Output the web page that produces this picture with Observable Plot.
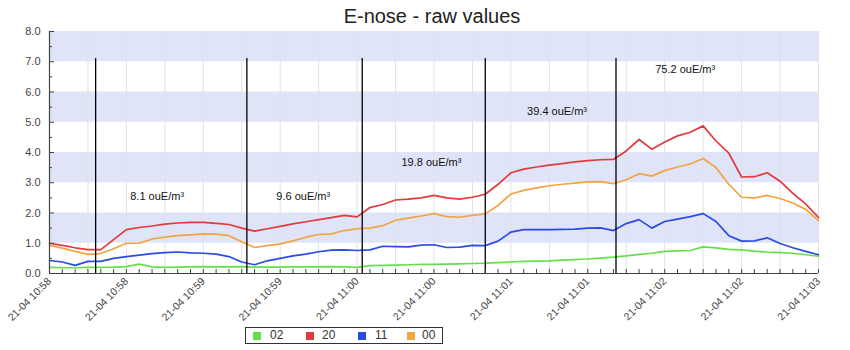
<!DOCTYPE html>
<html>
<head>
<meta charset="utf-8">
<script src="https://cdn.jsdelivr.net/npm/d3@7"></script>
<script src="https://cdn.jsdelivr.net/npm/@observablehq/plot@0.6"></script>
<style>
  body { margin: 0; background: #fff; font-family: "Liberation Sans", Arial, sans-serif; }
  #wrap { position: relative; width: 850px; height: 350px; }
  #title { position: absolute; left: 0; width: 864px; top: 5px; text-align: center; font-size: 20px; color: #222; }
  #legend { position: absolute; left: 245px; top: 327px; width: 196px; height: 15px; border: 1px solid #333; font-size: 12px; color: #333; }
  #legend span.sw { position: absolute; top: 4px; width: 8px; height: 8px; }
  #legend span.lb { position: absolute; top: 0px; line-height: 15px; }
</style>
</head>
<body>
<div id="wrap">
  <div id="title">E-nose - raw values</div>
  <div id="chart"></div>
  <div id="legend"></div>
</div>
<script>
// ---- data ----
const times = [
  "10:58:00","10:58:05","10:58:10","10:58:15","10:58:20","10:58:25","10:58:30","10:58:35","10:58:40","10:58:45",
  "10:58:50","10:58:55","10:59:00","10:59:05","10:59:10","10:59:15","10:59:20","10:59:25","10:59:30","10:59:35",
  "10:59:40","10:59:45","10:59:50","10:59:55","11:00:00","11:00:05","11:00:10","11:00:15","11:00:20","11:00:25",
  "11:00:30","11:00:35","11:00:40","11:00:45","11:00:50","11:00:55","11:01:00","11:01:05","11:01:10","11:01:15",
  "11:01:20","11:01:25","11:01:30","11:01:35","11:01:40","11:01:45","11:01:50","11:01:55","11:02:00","11:02:05",
  "11:02:10","11:02:15","11:02:20","11:02:25","11:02:30","11:02:35","11:02:40","11:02:45","11:02:50","11:02:55",
  "11:03:00"
];
const series02 = [0.20,0.19,0.19,0.20,0.20,0.21,0.23,0.31,0.22,0.20,0.21,0.22,0.23,0.22,0.22,0.23,0.21,0.21,0.21,0.22,
  0.22,0.22,0.23,0.22,0.20,0.26,0.27,0.28,0.29,0.30,0.30,0.31,0.32,0.33,0.34,0.36,0.38,0.40,0.41,0.42,
  0.44,0.46,0.48,0.51,0.54,0.58,0.63,0.67,0.73,0.75,0.76,0.88,0.85,0.80,0.78,0.74,0.71,0.69,0.67,0.62,0.57];
const series20 = [1.00,0.93,0.85,0.79,0.79,1.12,1.45,1.52,1.57,1.63,1.67,1.69,1.69,1.66,1.62,1.50,1.40,1.48,1.56,1.64,
  1.71,1.78,1.85,1.92,1.87,2.18,2.28,2.43,2.46,2.50,2.58,2.50,2.46,2.52,2.62,2.95,3.33,3.45,3.52,3.58,
  3.63,3.69,3.73,3.76,3.77,4.05,4.43,4.11,4.35,4.55,4.67,4.88,4.38,3.98,3.19,3.20,3.33,3.05,2.65,2.30,1.85];
const series11 = [0.43,0.38,0.27,0.40,0.40,0.50,0.56,0.61,0.66,0.69,0.71,0.68,0.67,0.64,0.56,0.38,0.29,0.42,0.50,0.58,
  0.64,0.72,0.77,0.78,0.76,0.78,0.90,0.89,0.88,0.94,0.95,0.86,0.87,0.93,0.92,1.07,1.37,1.45,1.45,1.45,
  1.46,1.47,1.50,1.51,1.42,1.65,1.78,1.50,1.72,1.80,1.88,1.98,1.72,1.25,1.07,1.08,1.18,0.99,0.85,0.73,0.62];
const series00 = [0.93,0.84,0.73,0.63,0.66,0.82,1.00,1.00,1.14,1.20,1.25,1.28,1.31,1.30,1.25,1.05,0.86,0.92,0.98,1.08,
  1.20,1.29,1.31,1.42,1.48,1.50,1.58,1.76,1.83,1.90,1.98,1.88,1.86,1.92,1.97,2.25,2.63,2.75,2.83,2.90,
  2.95,2.99,3.03,3.04,2.97,3.10,3.30,3.22,3.40,3.52,3.62,3.80,3.50,2.95,2.52,2.50,2.58,2.48,2.33,2.12,1.75];
const seriesNames = ["02", "20", "11", "00"];
const seriesColors = ["#66e04a", "#e23a3a", "#2a4be4", "#f2a440"];
const xLabelTimes = ["10:58:00","10:58:30","10:59:00","10:59:30","11:00:00","11:00:30","11:01:00","11:01:30","11:02:00","11:02:30","11:03:00"];
const gridTimes = ["10:58:15","10:58:30","10:58:45","10:59:00","10:59:15","10:59:30","10:59:45","11:00:00","11:00:15","11:00:30",
  "11:00:45","11:01:00","11:01:15","11:01:30","11:01:45","11:02:00","11:02:15","11:02:30","11:02:45","11:03:00"];
const yTickValues = [0, 1, 2, 3, 4, 5, 6, 7, 8];
const yMinorTicks = [0.5, 1.5, 2.5, 3.5, 4.5, 5.5, 6.5, 7.5];
const bandBottoms = [1, 3, 5, 7];
const bandTops = [2, 4, 6, 8];
const eventTimes = ["10:58:18","10:59:17","11:00:02","11:00:50","11:01:41"];
const eventTop = 7.17;
const odourLabels = ["8.1", "9.6", "19.8", "39.4", "75.2"];
const odourTimes = ["10:58:42","10:59:39","11:00:29","11:01:18","11:02:08"];
const odourLevels = [2.56, 2.56, 3.66, 5.36, 6.74];

// ---- build ----
const parse = d3.utcParse("%H:%M:%S");
const seriesValues = [series02, series20, series11, series00];
const rows = [];
seriesNames.forEach((name, i) => {
  times.forEach((t, j) => rows.push({time: parse(t), value: seriesValues[i][j], series: name}));
});
const bands = bandBottoms.map((b, i) => ({y1: b, y2: bandTops[i]}));
const events = eventTimes.map(t => ({time: parse(t), top: eventTop}));
const notes = odourLabels.map((l, i) => ({time: parse(odourTimes[i]), level: odourLevels[i], text: l + " ouE/m\u00b3"}));
const fmtHM = d3.utcFormat("%H:%M");

const W = 850, H = 350, mL = 49, mR = 32, mT = 31, mB = 77;
const frameW = W - mL - mR, frameH = H - mT - mB;

const chart = Plot.plot({
  width: W, height: H,
  marginLeft: mL, marginRight: mR, marginTop: mT, marginBottom: mB,
  style: {fontFamily: "'Liberation Sans', Arial, sans-serif", fontSize: "11px", background: "transparent", color: "#444"},
  x: {type: "utc", domain: [parse(times[0]), parse(times[times.length - 1])]},
  y: {domain: [0, 8]},
  color: {domain: seriesNames, range: seriesColors},
  marks: [
    Plot.rect(bands, {y1: "y1", y2: "y2", fill: "#dfe4f8"}),
    Plot.ruleX(gridTimes, {x: d => parse(d), stroke: "#e2e2e2", strokeWidth: 1}),
    Plot.line(rows, {x: "time", y: "value", z: "series", stroke: "series", strokeWidth: 1.7, curve: "linear"}),
    Plot.ruleX(events, {x: "time", y1: 0, y2: "top", stroke: "#000", strokeWidth: 1.3, insetBottom: -2}),
    Plot.text(notes, {x: "time", y: "level", text: "text", fill: "#111", fontSize: 11}),
    Plot.ruleY([0], {stroke: "#444", strokeWidth: 1.2}),
    Plot.ruleX([parse(times[0])], {stroke: "#444", strokeWidth: 1.2}),
    Plot.tickX(times, {x: d => parse(d), stroke: "#444", insetTop: frameH - 4}),
    Plot.tickY(yTickValues, {y: d => d, stroke: "#444", insetRight: frameW - 5}),
    Plot.tickY(yMinorTicks, {y: d => d, stroke: "#444", insetRight: frameW - 3}),
    Plot.axisY({ticks: yTickValues, tickFormat: d3.format(".1f"), tickSize: 0, tickPadding: 9, fontSize: 11}),
    Plot.axisX({ticks: xLabelTimes.map(parse), tickFormat: d => "21-04 " + fmtHM(d), tickRotate: -45, tickSize: 0, tickPadding: 6, fontSize: 10.5})
  ]
});
document.getElementById("chart").appendChild(chart);

// ---- legend ----
const legend = document.getElementById("legend");
const swX = [7, 60, 112, 161];
const lbX = [24, 76, 129, 176];
seriesNames.forEach((name, i) => {
  const sw = document.createElement("span");
  sw.className = "sw"; sw.style.left = swX[i] + "px"; sw.style.background = seriesColors[i];
  const lb = document.createElement("span");
  lb.className = "lb"; lb.style.left = lbX[i] + "px"; lb.textContent = name;
  legend.appendChild(sw); legend.appendChild(lb);
});
</script>
</body>
</html>
